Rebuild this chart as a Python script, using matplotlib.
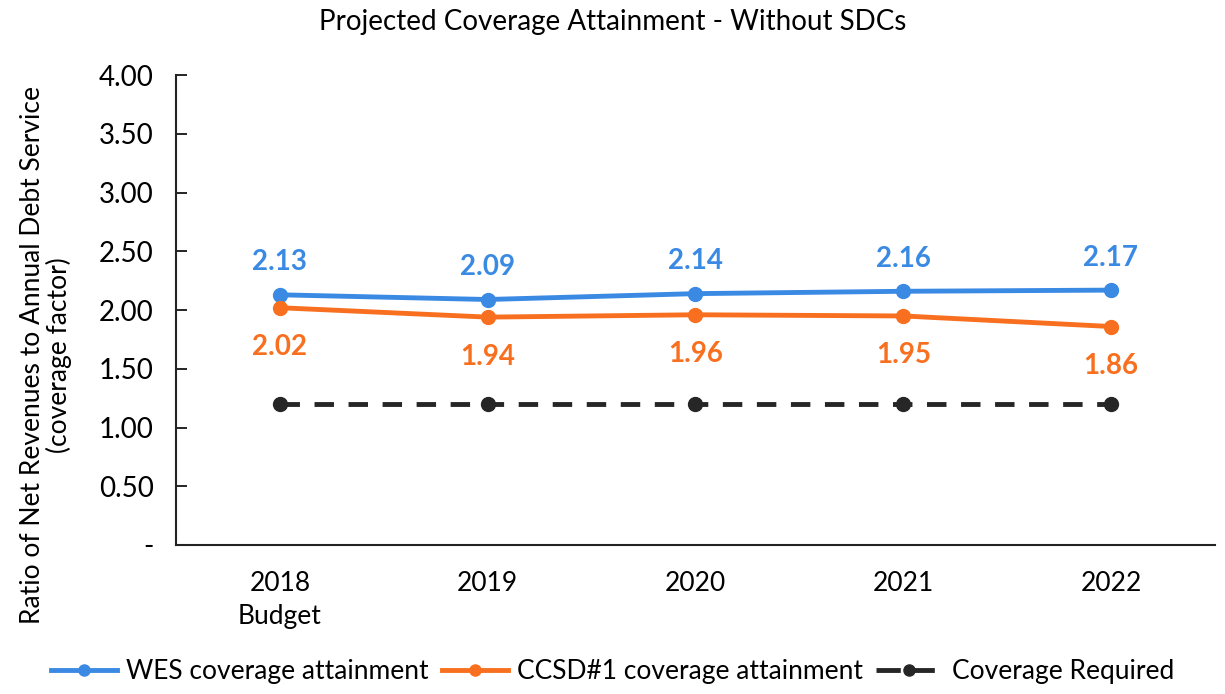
import matplotlib
matplotlib.use("Agg")
import matplotlib.pyplot as plt
from matplotlib.lines import Line2D
from matplotlib.ticker import FuncFormatter

plt.rcParams['font.family'] = ['Lato', 'DejaVu Sans']

categories = ["2018\nBudget", "2019", "2020", "2021", "2022"]
wes = [2.13, 2.09, 2.14, 2.16, 2.17]
ccsd = [2.02, 1.94, 1.96, 1.95, 1.86]
required = [1.20, 1.20, 1.20, 1.20, 1.20]
series_names = ["WES coverage attainment", "CCSD#1 coverage attainment", "Coverage Required"]

blue = "#3A8AE4"
orange = "#F8701F"
dark = "#262626"

fig = plt.figure(figsize=(12.25, 6.94), dpi=100)
ax = fig.add_axes([0.1437, 0.2147, 0.848, 0.677])
x = list(range(len(categories)))

ax.plot(x, wes, color=blue, lw=3.5, marker="o", ms=10)
ax.plot(x, ccsd, color=orange, lw=3.5, marker="o", ms=10)
ax.plot(x, required, color=dark, lw=3.5, ls=(0, (4, 3)), marker="o", ms=10)

for xi, v in zip(x, wes):
    ax.annotate(f"{v:.2f}", (xi, v), xytext=(0, 14), textcoords="offset points",
                ha="center", va="bottom", color=blue, fontsize=20, fontweight="bold")
for xi, v in zip(x, ccsd):
    ax.annotate(f"{v:.2f}", (xi, v), xytext=(0, -19), textcoords="offset points",
                ha="center", va="top", color=orange, fontsize=20, fontweight="bold")

ax.set_xlim(-0.5, 4.5)
ax.set_ylim(0, 4.0)
ax.set_yticks([i * 0.5 for i in range(9)])
ax.yaxis.set_major_formatter(FuncFormatter(lambda v, p: "-" if abs(v) < 1e-9 else f"{v:.2f}"))
ax.set_xticks(x)
ax.set_xticklabels(categories, fontsize=19, linespacing=1.4)
ax.tick_params(axis="y", direction="in", length=8, width=1.2, labelsize=20, pad=16)
ax.tick_params(axis="x", length=0, pad=19)
for s in ["top", "right"]:
    ax.spines[s].set_visible(False)
for s in ["left", "bottom"]:
    ax.spines[s].set_linewidth(1.5)
    ax.spines[s].set_color("#222222")

ax.set_ylabel("Ratio of Net Revenues to Annual Debt Service\n(coverage factor)", fontsize=19,
              linespacing=1.05)
ax.yaxis.set_label_coords(-0.100, 0.404)

fig.text(0.5, 1 - 22 / 694, "Projected Coverage Attainment - Without SDCs", fontsize=20,
         ha="center", va="center")

handles = [
    Line2D([], [], color=blue, lw=3.5, marker="o", ms=8),
    Line2D([], [], color=orange, lw=3.5, marker="o", ms=8),
    Line2D([], [], color=dark, lw=3.5, ls=(0, (5, 2)), marker="o", ms=8),
]
fig.legend(handles, series_names, loc="lower center", bbox_to_anchor=(0.5, -0.02), ncol=3,
           frameon=False, fontsize=19, handlelength=2.5, columnspacing=0.5,
           handletextpad=0.35)

fig.savefig("out.png", dpi=100)
